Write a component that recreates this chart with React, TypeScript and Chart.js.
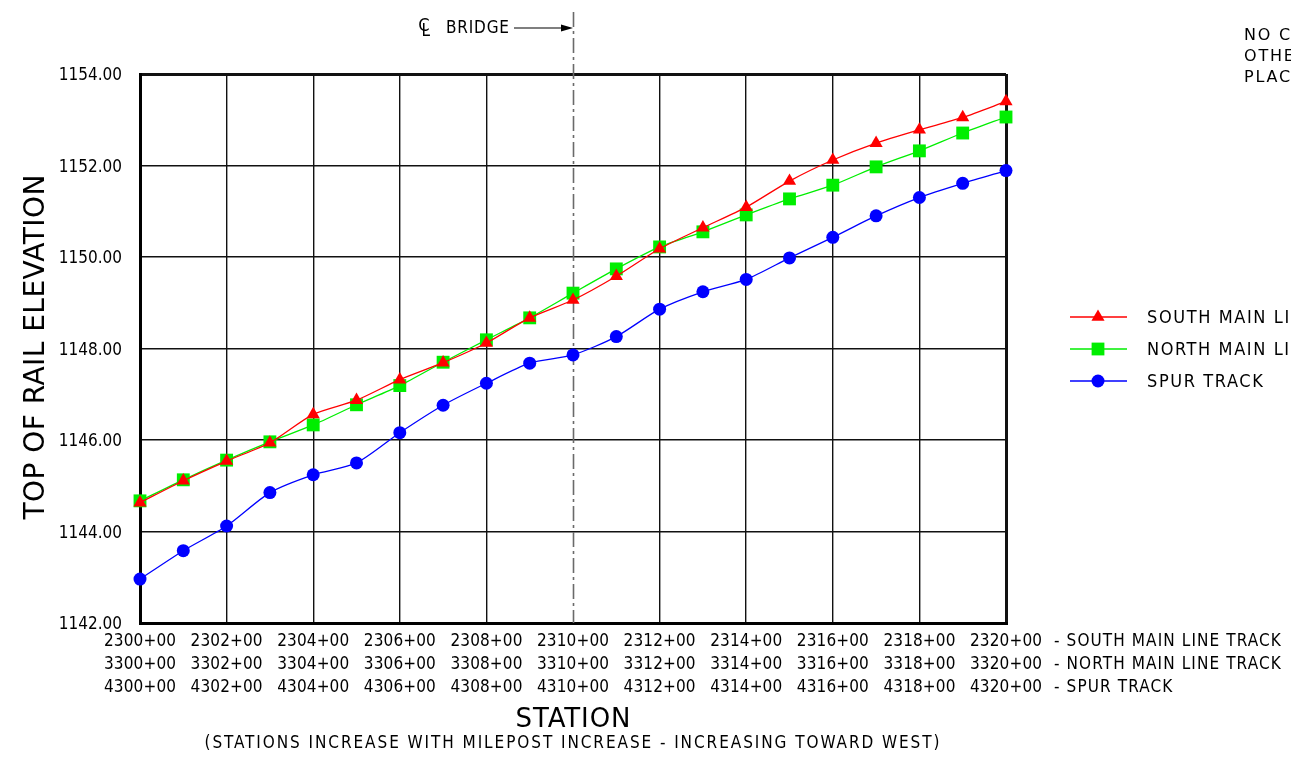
import React, { useEffect, useRef } from "react";
import { Chart, registerables } from "chart.js";

Chart.register(...registerables);

const stations = [2300, 2301, 2302, 2303, 2304, 2305, 2306, 2307, 2308, 2309, 2310, 2311, 2312, 2313, 2314, 2315, 2316, 2317, 2318, 2319, 2320];
const southMainLine = [1144.63, 1145.11, 1145.54, 1145.94, 1146.56, 1146.87, 1147.32, 1147.69, 1148.12, 1148.67, 1149.06, 1149.58, 1150.18, 1150.64, 1151.09, 1151.66, 1152.12, 1152.49, 1152.78, 1153.05, 1153.40];
const northMainLine = [1144.67, 1145.13, 1145.56, 1145.96, 1146.33, 1146.77, 1147.19, 1147.70, 1148.19, 1148.67, 1149.21, 1149.74, 1150.22, 1150.55, 1150.92, 1151.27, 1151.57, 1151.97, 1152.32, 1152.71, 1153.06];
const spurTrack = [1142.96, 1143.58, 1144.12, 1144.85, 1145.24, 1145.50, 1146.16, 1146.76, 1147.24, 1147.68, 1147.86, 1148.26, 1148.86, 1149.24, 1149.51, 1149.98, 1150.43, 1150.90, 1151.30, 1151.61, 1151.89];

const seriesNames = ["SOUTH MAIN LINE TRACK", "NORTH MAIN LINE TRACK", "SPUR TRACK"];
const southTickLabels = ["2300+00", "2302+00", "2304+00", "2306+00", "2308+00", "2310+00", "2312+00", "2314+00", "2316+00", "2318+00", "2320+00"];
const northTickLabels = ["3300+00", "3302+00", "3304+00", "3306+00", "3308+00", "3310+00", "3312+00", "3314+00", "3316+00", "3318+00", "3320+00"];
const spurTickLabels = ["4300+00", "4302+00", "4304+00", "4306+00", "4308+00", "4310+00", "4312+00", "4314+00", "4316+00", "4318+00", "4320+00"];
const rowSuffixes = ["- SOUTH MAIN LINE TRACK", "- NORTH MAIN LINE TRACK", "- SPUR TRACK"];

const yMin = 1142;
const yMax = 1154;
const yStep = 2;
const xStep = 2;
const bridgeStation = 2310;

const yTitle = "TOP OF RAIL ELEVATION";
const xTitle = "STATION";
const xSubtitle = "(STATIONS INCREASE WITH MILEPOST INCREASE - INCREASING TOWARD WEST)";
const bridgeLabel = "BRIDGE";
const noteLines = ["NO CHANGE", "OTHERWISE", "PLACED"];

const FONT = "'DejaVu Sans', sans-serif";
const COND = "'DejaVu Sans Condensed', 'DejaVu Sans', sans-serif";

const colors = ["#ff0000", "#00ee00", "#0000ff"];
const markerStyles = ["triangle", "rect", "circle"];

function drawText(ctx: CanvasRenderingContext2D, text: string, x: number, y: number, font: string, align: CanvasTextAlign, target?: number, spacing?: number) {
  ctx.font = font;
  (ctx as any).letterSpacing = "0px";
  let ls = spacing || 0;
  if (target) {
    const w = ctx.measureText(text).width;
    const n = Array.from(text).length;
    ls = (target - w) / Math.max(1, n - 1);
  }
  (ctx as any).letterSpacing = ls + "px";
  ctx.textAlign = align;
  ctx.textBaseline = "middle";
  let dx = 0;
  if (align === "center") dx = ls / 2;
  ctx.fillText(text, x + dx, y);
  const width = ctx.measureText(text).width;
  (ctx as any).letterSpacing = "0px";
  return width;
}

function drawMarker(ctx: CanvasRenderingContext2D, style: string, x: number, y: number, color: string) {
  ctx.fillStyle = color;
  ctx.beginPath();
  if (style === "triangle") {
    const r = 7.6;
    ctx.moveTo(x, y - r);
    ctx.lineTo(x + r * Math.sin((2 * Math.PI) / 3), y - r * Math.cos((2 * Math.PI) / 3));
    ctx.lineTo(x + r * Math.sin((4 * Math.PI) / 3), y - r * Math.cos((4 * Math.PI) / 3));
    ctx.closePath();
  } else if (style === "rect") {
    ctx.rect(x - 6.4, y - 6.4, 12.8, 12.8);
  } else {
    ctx.arc(x, y, 6.5, 0, Math.PI * 2);
  }
  ctx.fill();
}

const decorations = {
  id: "decorations",
  beforeDatasetsDraw(chart: any) {
    const { ctx, chartArea, scales } = chart;
    const cx = Math.round(scales.x.getPixelForValue(bridgeStation)) + 0.5;
    ctx.save();
    ctx.strokeStyle = "#6a6a6a";
    ctx.lineWidth = 1.6;
    ctx.setLineDash([15, 4, 3, 4]);
    ctx.beginPath();
    ctx.moveTo(cx, 12);
    ctx.lineTo(cx, chartArea.bottom);
    ctx.stroke();
    ctx.restore();
  },
  afterDraw(chart: any) {
    const { ctx, chartArea, scales } = chart;
    const xs = scales.x;
    ctx.save();
    ctx.fillStyle = "#000";

    // x tick labels (three station rows)
    const rows = [southTickLabels, northTickLabels, spurTickLabels];
    const rowY = [642, 665, 688];
    const ticks = xs.ticks;
    rows.forEach((labels, r) => {
      ticks.forEach((t: any, i: number) => {
        const px = xs.getPixelForValue(t.value);
        drawText(ctx, labels[i], px, rowY[r], "17px " + COND, "center", 72);
        if (i === ticks.length - 1) {
          drawText(ctx, rowSuffixes[r], px + 48, rowY[r], "17px " + COND, "left", undefined, 1.1);
        }
      });
    });

    // axis titles
    ctx.save();
    ctx.translate(37, 347);
    ctx.rotate(-Math.PI / 2);
    drawText(ctx, yTitle, 0, 0, "28px " + FONT, "center", 345);
    ctx.restore();
    const midX = (chartArea.left + chartArea.right) / 2;
    drawText(ctx, xTitle, midX, 720, "26px " + FONT, "center", 115);
    drawText(ctx, xSubtitle, midX - 1, 744, "17px " + COND, "center", 735);

    // centre line symbol (C over L) and bridge label with arrow
    const cx = xs.getPixelForValue(bridgeStation);
    drawText(ctx, "C", 424, 26, "18px " + COND, "center");
    drawText(ctx, "L", 421.5, 32, "17px " + COND, "left");
    drawText(ctx, bridgeLabel, 446, 29, "17px " + COND, "left", 63);
    ctx.strokeStyle = "#000";
    ctx.lineWidth = 1.2;
    ctx.beginPath();
    ctx.moveTo(514, 28);
    ctx.lineTo(cx - 8, 28);
    ctx.stroke();
    ctx.beginPath();
    ctx.moveTo(cx, 28);
    ctx.lineTo(cx - 12, 24.5);
    ctx.lineTo(cx - 12, 31.5);
    ctx.closePath();
    ctx.fill();

    // note at top right
    const noteY = [35.5, 57, 78];
    noteLines.forEach((line, i) => drawText(ctx, line, 1244, noteY[i], "16px " + FONT, "left", undefined, 1.8));

    // legend
    const legY = [317, 349, 381];
    seriesNames.forEach((name, i) => {
      ctx.strokeStyle = colors[i];
      ctx.lineWidth = 1.3;
      ctx.beginPath();
      ctx.moveTo(1070, legY[i]);
      ctx.lineTo(1127, legY[i]);
      ctx.stroke();
      drawMarker(ctx, markerStyles[i], 1098, legY[i], colors[i]);
      ctx.fillStyle = "#000";
      drawText(ctx, name, 1147, legY[i] + 1.5, "18px " + COND, "left", undefined, 1.6);
    });
    ctx.restore();
  },
};

export default function App() {
  const ref = useRef<HTMLCanvasElement>(null);
  useEffect(() => {
    const toPoints = (vals: number[]) => stations.map((s, i) => ({ x: s, y: vals[i] }));
    const chart = new Chart(ref.current as HTMLCanvasElement, {
      type: "line",
      data: {
        datasets: [
          {
            label: seriesNames[0],
            data: toPoints(southMainLine),
            borderColor: colors[0],
            backgroundColor: colors[0],
            borderWidth: 1.3,
            pointStyle: "triangle",
            pointRadius: 7.6,
            pointBorderWidth: 0,
            tension: 0.25,
            clip: false as any,
          },
          {
            label: seriesNames[1],
            data: toPoints(northMainLine),
            borderColor: colors[1],
            backgroundColor: colors[1],
            borderWidth: 1.3,
            pointStyle: "rect",
            pointRadius: 9.1,
            pointBorderWidth: 0,
            tension: 0.25,
            clip: false as any,
          },
          {
            label: seriesNames[2],
            data: toPoints(spurTrack),
            borderColor: colors[2],
            backgroundColor: colors[2],
            borderWidth: 1.3,
            pointStyle: "circle",
            pointRadius: 6.5,
            pointBorderWidth: 0,
            tension: 0.25,
            clip: false as any,
          },
        ],
      },
      options: {
        responsive: false,
        devicePixelRatio: 1,
        animation: false,
        events: [],
        layout: { padding: { left: 0, top: 74, right: 285, bottom: 0 } },
        plugins: { legend: { display: false }, tooltip: { enabled: false } },
        scales: {
          x: {
            type: "linear",
            min: stations[0],
            max: stations[stations.length - 1],
            ticks: { stepSize: xStep, display: false },
            grid: {
              drawTicks: false,
              color: (c: any) => (c.tick && c.tick.value === bridgeStation ? "rgba(0,0,0,0)" : "#111"),
              lineWidth: (c: any) => (c.tick && (c.tick.value === stations[0] || c.tick.value === stations[stations.length - 1]) ? 3 : 1.4),
            },
            border: { display: true, color: "#000", width: 3 },
            afterFit: (s: any) => {
              s.height = 137;
            },
          },
          y: {
            min: yMin,
            max: yMax,
            ticks: {
              stepSize: yStep,
              color: "#000",
              padding: 18,
              labelOffset: 2,
              font: { family: COND, size: 17 },
              callback: (v: any) => Number(v).toFixed(2),
            },
            grid: {
              drawTicks: false,
              color: "#111",
              lineWidth: (c: any) => (c.tick && c.tick.value === yMax ? 3 : 1.4),
            },
            border: { display: true, color: "#000", width: 3 },
            afterFit: (s: any) => {
              s.width = 140;
            },
          },
        },
      },
      plugins: [decorations],
    });
    return () => chart.destroy();
  }, []);
  return (
    <div style={{ position: "fixed", left: 0, top: 0, width: 1291, height: 760, background: "#fff", overflow: "hidden" }}>
      <canvas ref={ref} width={1291} height={760} style={{ display: "block" }} />
    </div>
  );
}
